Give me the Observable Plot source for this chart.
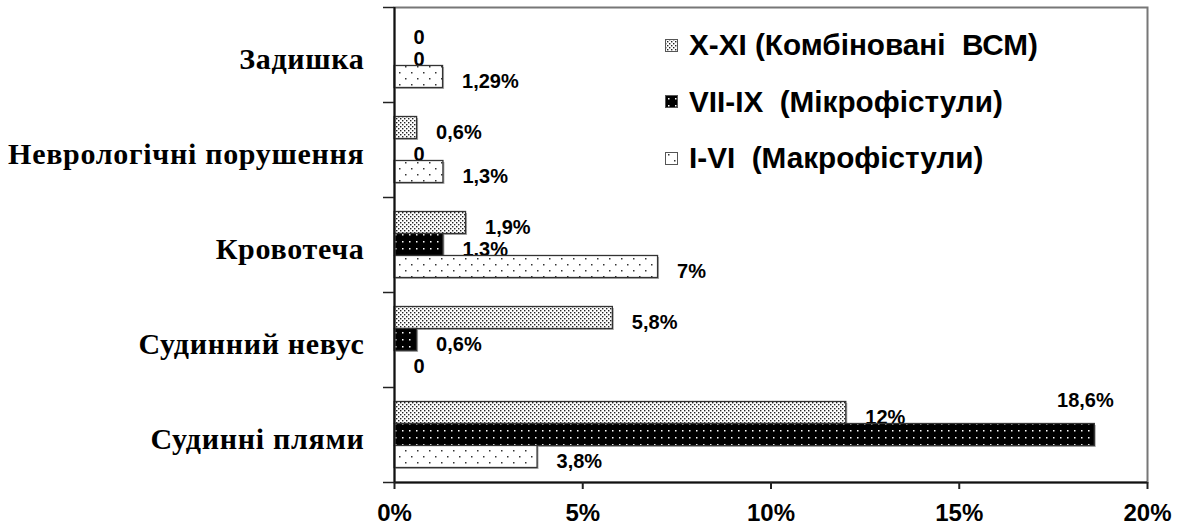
<!DOCTYPE html>
<html>
<head>
<meta charset="utf-8">
<script src="https://cdn.jsdelivr.net/npm/d3@7"></script>
<script src="https://cdn.jsdelivr.net/npm/@observablehq/plot@0.6"></script>
<style>
  body { margin: 0; background: #fff; }
  #wrap { position: relative; width: 1188px; height: 527px; }
  #wrap g[aria-label="y-axis tick label"] text { letter-spacing: 0.7px; }
  #legend { position: absolute; left: 665px; top: 17px; font: bold 29.7px "Liberation Sans", Arial, sans-serif; color: #000; }
  #legend .row { display: flex; align-items: center; height: 56.5px; white-space: pre; }
  #legend .row svg { margin-right: 11px; flex: none; }
</style>
</head>
<body>
<!-- fill patterns shared by the bars and the legend swatches -->
<svg width="0" height="0" style="position:absolute">
  <defs>
    <pattern id="pat-combined" patternUnits="userSpaceOnUse" width="4" height="4">
      <rect width="4" height="4" fill="#fff"/>
      <rect x="0" y="0" width="1.4" height="1.4" fill="#222"/>
      <rect x="2" y="2" width="1.4" height="1.4" fill="#222"/>
    </pattern>
    <pattern id="pat-micro" patternUnits="userSpaceOnUse" width="7" height="7">
      <rect width="7" height="7" fill="#000"/>
      <rect x="3" y="3" width="1.5" height="1.5" fill="#fff"/>
    </pattern>
    <pattern id="pat-macro" patternUnits="userSpaceOnUse" width="12" height="12">
      <rect width="12" height="12" fill="#fff"/>
      <rect x="3" y="2" width="1.5" height="1.5" fill="#333"/>
      <rect x="9" y="8" width="1.5" height="1.5" fill="#333"/>
    </pattern>
  </defs>
</svg>
<div id="wrap"><div id="legend"></div></div>
<script>
// Categories (top to bottom) and the three fistula groups
const categories = ["Задишка", "Неврологічні порушення", "Кровотеча", "Судинний невус", "Судинні плями"];
const seriesNames = ["X-XI (Комбіновані  ВСМ)", "VII-IX  (Мікрофістули)", "I-VI  (Макрофістули)"];

// Percent of patients per category, one array per group
const combinedValues = [0, 0.6, 1.9, 5.8, 12];
const microValues = [0, 0, 1.3, 0.6, 18.6];
const macroValues = [1.29, 1.3, 7, 0, 3.8];

const xTicks = [0, 5, 10, 15, 20];

// Layout
const W = 1188, H = 527;
const mL = 394, mR = 41, mT = 7, mB = 45;
const band = (H - mT - mB) / categories.length;
const barH = 22;
const inset = (band - barH) / 2;
const offsets = [-22, 0, 22];
const fills = ["url(#pat-combined)", "url(#pat-micro)", "url(#pat-macro)"];

const fmt = v => v === 0 ? "0" : String(v).replace(".", ",") + "%";

const seriesValues = [combinedValues, microValues, macroValues];
const rows = seriesValues.flatMap((vals, s) =>
  vals.map((v, i) => ({category: categories[i], series: s, value: v, label: fmt(v)})));

// Labels that would run past the right edge are lifted above the bar end
const xs = d3.scaleLinear([0, 20], [mL, W - mR]);
const fits = d => xs(d.value) + 20 + d.label.length * 11.5 <= W - mR;

const textStyle = {fontSize: 20, fontWeight: "bold", fontFamily: "Liberation Sans, Arial, sans-serif", fill: "#000"};

const marks = [];
// value labels go underneath the bars
seriesValues.forEach((_, s) => {
  marks.push(Plot.text(rows.filter(d => d.series === s && fits(d)), {
    x: "value", y: "category", text: "label", dx: 19, dy: offsets[s] + 5, textAnchor: "start", ...textStyle
  }));
  marks.push(Plot.text(rows.filter(d => d.series === s && !fits(d)), {
    x: "value", y: "category", text: "label", dx: 19, dy: offsets[s] - 34, textAnchor: "end", ...textStyle
  }));
});
// bars with a soft shadow
seriesValues.forEach((_, s) => {
  const data = rows.filter(d => d.series === s && d.value > 0);
  marks.push(Plot.barX(data, {
    x: "value", y: "category", fill: "#b0b0b0", insetTop: inset, insetBottom: inset, dy: offsets[s] + 1.5, dx: 1.5
  }));
  marks.push(Plot.barX(data, {
    x: "value", y: "category", fill: fills[s], stroke: "#333", strokeWidth: 1.3,
    insetTop: inset, insetBottom: inset, dy: offsets[s]
  }));
});
// plot frame and axes
marks.push(Plot.frame({stroke: "#777", strokeWidth: 2}));
marks.push(Plot.ruleX([0], {stroke: "#111", strokeWidth: 2}));
marks.push(Plot.ruleY([categories[categories.length - 1]], {y: d => d, dy: band / 2, stroke: "#111", strokeWidth: 2}));
// tick marks on band boundaries
marks.push(Plot.ruleY(categories, {y: d => d, x1: 0, x2: 0, insetLeft: -11, dy: -band / 2, stroke: "#222", strokeWidth: 1.5}));
marks.push(Plot.ruleY([categories[categories.length - 1]], {y: d => d, x1: 0, x2: 0, insetLeft: -11, dy: band / 2, stroke: "#222", strokeWidth: 1.5}));
marks.push(Plot.axisY({tickSize: 0, tickPadding: 30, fontSize: 30, fontFamily: "Liberation Serif, Times New Roman, serif", fontWeight: "bold", dy: 4, label: null}));
marks.push(Plot.axisX({ticks: xTicks, tickFormat: d => d + "%", tickSize: 7, tickPadding: 14, fontSize: 24, fontWeight: "bold",
  fontFamily: "Liberation Sans, Arial, sans-serif", strokeWidth: 2, stroke: "#222", label: null}));

const chart = Plot.plot({
  width: W, height: H,
  marginLeft: mL, marginRight: mR, marginTop: mT, marginBottom: mB,
  x: {domain: [0, 20], label: null},
  y: {domain: categories, padding: 0, round: false, label: null},
  style: {background: "#fff", color: "#000", fontFamily: "Liberation Sans, Arial, sans-serif", overflow: "visible"},
  marks
});
document.getElementById("wrap").prepend(chart);

// legend
const legend = document.getElementById("legend");
seriesNames.forEach((name, s) => {
  const row = document.createElement("div");
  row.className = "row";
  row.innerHTML = `<svg width="13" height="13"><rect x="0.5" y="0.5" width="12" height="12" fill="${fills[s]}" stroke="#555" stroke-width="1"/></svg>`;
  const span = document.createElement("span");
  span.textContent = name;
  row.appendChild(span);
  legend.appendChild(row);
});
</script>
</body>
</html>
